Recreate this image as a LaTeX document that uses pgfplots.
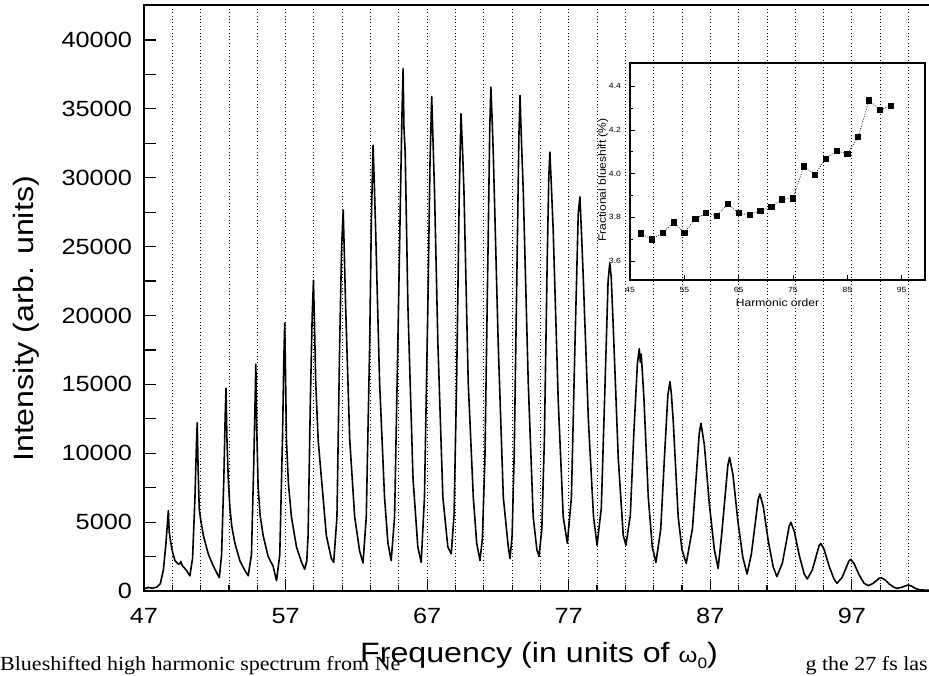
\documentclass[border=0pt]{standalone}
\usepackage{fontspec}
\setmainfont{Liberation Sans}[FakeStretch=1.15]
\newfontfamily\capfont{Liberation Serif}[FakeStretch=1.1]
\usepackage{pgfplots}
\pgfplotsset{compat=1.18}
\begin{document}
\begin{tikzpicture}[x=1pt,y=1pt]
\begin{axis}[
  scale only axis, width=790pt, height=586pt,
  at={(144pt,84pt)}, anchor=south west,
  xmin=47, xmax=102.8, ymin=0, ymax=42540,
  axis line style={line width=1.5pt},
  xtick={47,57,...,97}, minor xtick={49,51,...,101},
  ytick={0,5000,...,40000},
  extra y ticks={2500,7500,...,37500}, extra y tick labels={},
  extra y tick style={grid=none},
  xtick pos=left, ytick pos=left, tick align=inside,
  major tick length=12pt, minor tick length=6pt,
  every tick/.style={black, line width=1.2pt},
  xmajorgrids=true, xminorgrids=true,
  major grid style={black, line width=0.8pt, dash pattern=on 0.8pt off 2.6pt},
  minor grid style={black, line width=0.8pt, dash pattern=on 0.8pt off 2.6pt},
  scaled y ticks=false,
  /pgf/number format/1000 sep={},
  /pgf/number format/assume math mode=true,
  tick label style={font=\fontsize{22}{26}\selectfont},
  xticklabel style={anchor=base, yshift=-32pt},
  yticklabel style={anchor=east, xshift=-8.5pt},
  every axis x label/.style={at={(axis description cs:0.5,-0.1212)}, anchor=base, font=\fontsize{28}{32}\selectfont},
  every axis y label/.style={at={(axis description cs:-0.1405,0.4642)}, rotate=90, anchor=base, font=\fontsize{28}{32}\selectfont},
  xlabel={Frequency (in units of {\fontsize{21}{21}\selectfont ω}\raisebox{-6pt}{\fontsize{15}{15}\selectfont 0})},
  ylabel={Intensity (arb. units)},
]
\addplot[black, line width=1.6pt, line join=round] coordinates {
(47.0,150) (47.3,260) (47.6,200) (47.9,280) (48.15,520) (48.37,1530) (48.55,3470)
(48.72,5833) (48.78,4300) (48.88,3600) (49.0,2900) (49.19,2200) (49.42,1950) (49.55,2000) (49.6,2150) (49.7,1850) (50.0,1500) (50.24,1100)
(50.43,2360) (50.6,6800) (50.7,10500) (50.76,12222) (50.82,9000) (50.9,6000) (51.0,5200) (51.2,4000) (51.55,2650) (51.9,1800) (52.25,1100) (52.32,970)
(52.48,2640) (52.64,8200) (52.73,12500) (52.79,14722) (52.86,11000) (52.95,8200) (53.07,6000) (53.2,4700) (53.42,3470) (53.77,2200) (54.12,1500) (54.36,1100)
(54.59,2640) (54.76,9600) (54.85,14000) (54.9,16472) (54.96,12000) (55.06,7600) (55.2,5500) (55.42,4000) (55.77,2500) (56.12,1800) (56.3,1000) (56.36,750)
(56.59,2640) (56.78,11000) (56.88,17000) (56.94,19444) (57.0,15500) (57.06,11000) (57.2,7800) (57.41,5400) (57.77,3200) (58.12,2100) (58.35,1580)
(58.5,2200) (58.59,4030) (58.75,13750) (58.88,20000) (58.97,22555) (59.04,19500) (59.13,15140) (59.3,11000) (59.53,8200) (59.88,4030) (60.23,2360) (60.4,2080)
(60.63,5400) (60.82,17900) (60.96,25000) (61.07,27639) (61.15,24500) (61.24,20700) (61.53,11000) (61.88,5400) (62.23,2900) (62.47,2030)
(62.7,5400) (62.94,17900) (63.06,27000) (63.18,32361) (63.27,29500) (63.36,26250) (63.64,15140) (63.99,6800) (64.23,3470) (64.46,2200)
(64.7,5400) (64.93,17900) (65.12,29000) (65.22,34500) (65.3,37917) (65.36,33700) (65.45,31800) (65.64,20700) (66.0,8200) (66.34,3200) (66.58,2080)
(66.81,6800) (67.05,20700) (67.2,31000) (67.32,35889) (67.42,32500) (67.52,29000) (67.76,17900) (68.11,6800) (68.46,3200) (68.7,2700)
(68.9,5500) (69.08,15140) (69.27,29000) (69.39,34640) (69.5,32000) (69.6,29000) (69.9,15140) (70.26,6800) (70.5,3470) (70.73,2220)
(70.9,3800) (71.08,9600) (71.32,26250) (71.42,33500) (71.5,36587) (71.58,34500) (71.67,31800) (72.02,17900) (72.38,6800) (72.73,3200) (72.85,2360)
(73.0,4000) (73.15,10000) (73.38,26000) (73.48,33000) (73.56,35975) (73.65,33000) (73.79,29000) (74.14,15140) (74.49,5400) (74.75,3000) (74.9,2500)
(75.1,4500) (75.28,11000) (75.48,24000) (75.59,30000) (75.67,31864) (75.77,29500) (75.9,26250) (76.26,13750) (76.61,5400) (76.9,3470)
(77.19,6800) (77.44,17900) (77.67,27360) (77.79,28613) (77.88,26500) (78.0,23470) (78.39,12360) (78.75,5400) (79.0,3330)
(79.3,6000) (79.55,14500) (79.78,22500) (79.9,23807) (80.0,22800) (80.14,19300) (80.5,9600) (80.85,4030) (81.04,3330)
(81.35,5500) (81.6,11500) (81.85,16500) (81.98,17585) (82.06,16600) (82.12,17200) (82.2,15900) (82.31,14000) (82.62,6800) (82.9,3200) (83.16,2080)
(83.5,4500) (83.75,9500) (84.0,14200) (84.15,15200) (84.25,14300) (84.38,12360) (84.73,5400) (85.0,3000) (85.3,2000)
(85.74,4543) (85.99,8103) (86.22,11460) (86.34,12172) (86.58,10590) (86.93,6330) (87.28,3043) (87.55,1646)
(87.76,3660) (88.01,6481) (88.24,9140) (88.36,9704) (88.6,8442) (88.95,5046) (89.3,2426) (89.6,1234)
(89.9,2686) (90.15,4719) (90.38,6635) (90.5,7042) (90.74,6127) (91.09,3662) (91.44,1760) (91.7,1040)
(92.09,2026) (92.34,3407) (92.57,4709) (92.69,4985) (92.93,4337) (93.28,2592) (93.63,1246) (93.85,871)
(94.2,1519) (94.45,2425) (94.68,3280) (94.8,3461) (95.04,3011) (95.39,1800) (95.74,865) (95.95,556)
(96.31,992) (96.56,1602) (96.79,2177) (96.91,2299) (97.15,2000) (97.5,1195) (97.85,575) (98.15,387)
(98.46,532) (98.71,736) (98.94,927) (99.06,968) (99.3,842) (99.65,503) (99.95,280) (100.17,193)
(100.5,260) (100.75,360) (100.98,436) (101.2,360) (101.5,180) (101.8,90) (102.2,60) (102.8,50)
};
\end{axis}
\begin{axis}[
  scale only axis, width=295pt, height=217pt,
  at={(630pt,395pt)}, anchor=south west,
  xmin=45, xmax=99.3, ymin=3.513, ymax=4.507,
  axis line style={line width=1.1pt},
  xtick={45,55,65,75,85,95},
  ytick={3.6,3.8,4.0,4.2,4.4}, minor ytick={3.7,3.9,4.1,4.3},
  xtick pos=left, ytick pos=left, tick align=inside,
  major tick length=5pt, minor tick length=3pt,
  every tick/.style={black, line width=0.8pt},
  /pgf/number format/assume math mode=true,
  tick label style={font=\fontsize{7.5}{8}\selectfont},
  xticklabel style={anchor=center, yshift=-10pt},
  yticklabel style={anchor=east, xshift=-5.5pt, /pgf/number format/.cd, fixed, fixed zerofill, precision=1},
  every axis x label/.style={at={(axis description cs:0.5,-0.1244)}, anchor=base, font=\fontsize{10.5}{12}\selectfont},
  every axis y label/.style={at={(axis description cs:-0.0814,0.461)}, rotate=90, anchor=base, font=\fontsize{10.5}{12}\selectfont},
  xlabel={Harmonic order},
  ylabel={Fractional blueshift (\%)},
]
\addplot[black, line width=0.6pt, dash pattern=on 1pt off 1.5pt, mark=square*, mark size=2.6pt, mark options={solid, fill=black}] coordinates {
(47,3.727) (49,3.699) (51,3.729) (53,3.777) (55,3.729) (57,3.793) (59,3.819) (61,3.807)
(63,3.862) (65,3.819) (67,3.812) (69,3.830) (71,3.848) (73,3.883) (75,3.887) (77,4.034)
(79,3.995) (81,4.069) (83,4.104) (85,4.092) (87,4.168) (89,4.336) (91,4.293) (93,4.310)
};
\end{axis}
\node[anchor=base west, inner sep=0pt] at (0,4.5) {\capfont\fontsize{20}{22}\selectfont Blueshifted high harmonic spectrum from Ne};
\node[anchor=base east, inner sep=0pt] at (928,4.5) {\capfont\fontsize{20}{22}\selectfont g the 27 fs las};
\pgfresetboundingbox
\useasboundingbox (0,0) rectangle (929,675);
\end{tikzpicture}
\end{document}
